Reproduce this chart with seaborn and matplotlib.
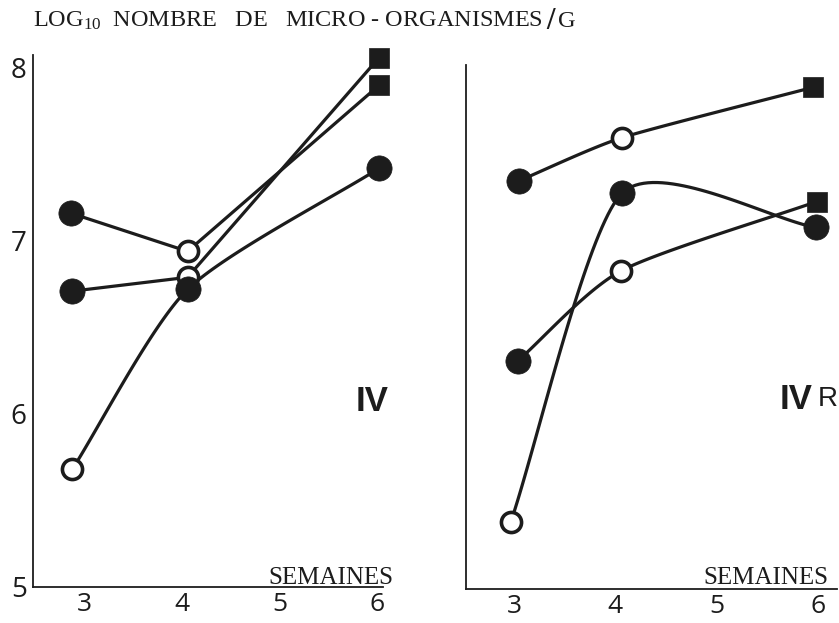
import numpy as np
import pandas as pd
import matplotlib
matplotlib.use("Agg")
import matplotlib.pyplot as plt
import seaborn as sns

sns.set_style("white")
plt.rcParams['font.family'] = ['Liberation Serif', 'DejaVu Serif']
plt.rcParams['mathtext.default'] = 'regular'

INK = "#1c1c1c"

# panneau IV : semaines / log10 nombre de micro-organismes / type de point
weeks_iv = [[2.87, 4.06, 6.02],
            [2.88, 4.06, 6.02],
            [2.88, 4.06, 6.02]]
logn_iv = [[7.16, 6.94, 7.90],
           [6.71, 6.79, 8.06],
           [5.68, 6.72, 7.42]]
kind_iv = [["plein", "vide", "carre"],
           ["plein", "vide", "carre"],
           ["vide", "plein", "plein"]]
tension_iv = [1.0, 1.0, 0.3]

# panneau IV R
weeks_ivr = [[3.05, 4.07, 5.95],
             [2.97, 4.07, 5.98],
             [3.04, 4.06, 5.99]]
logn_ivr = [[7.36, 7.61, 7.90],
            [5.39, 7.29, 7.09],
            [6.32, 6.84, 7.24]]
kind_ivr = [["plein", "vide", "carre"],
            ["vide", "plein", "plein"],
            ["plein", "vide", "carre"]]
tension_ivr = [0.4, 0.3, 0.3]

week_ticks = [3, 4, 5, 6]
log_ticks = [5, 6, 7, 8]


def courbe(xs, ys, tension, n=40):
    # cardinal spline through the points (tension 1 -> straight segments)
    p = np.column_stack([xs, ys]).astype(float)
    m = np.zeros_like(p)
    m[1:-1] = (p[2:] - p[:-2]) / 2
    m[0] = p[1] - p[0]
    m[-1] = p[-1] - p[-2]
    m *= (1 - tension)
    t = np.linspace(0, 1, n)[:, None]
    h00 = 2 * t**3 - 3 * t**2 + 1
    h10 = t**3 - 2 * t**2 + t
    h01 = -2 * t**3 + 3 * t**2
    h11 = t**3 - t**2
    segs = [h00 * p[i] + h10 * m[i] + h01 * p[i + 1] + h11 * m[i + 1]
            for i in range(len(p) - 1)]
    return np.vstack(segs)


def panel(ax, weeks, logn, kinds, tensions):
    for xs, ys, c in zip(weeks, logn, tensions):
        cv = courbe(xs, ys, c)
        sns.lineplot(x=cv[:, 0], y=cv[:, 1], sort=False, estimator=None,
                     color=INK, lw=2.3, ax=ax, zorder=2, clip_on=False)
    df = pd.DataFrame({"x": sum(weeks, []), "y": sum(logn, []),
                       "kind": sum(kinds, [])})
    sns.scatterplot(data=df[df.kind == "vide"], x="x", y="y", marker="o",
                    s=210, color="white", edgecolor=INK, linewidth=2.6,
                    ax=ax, zorder=3, clip_on=False)
    sns.scatterplot(data=df[df.kind == "plein"], x="x", y="y", marker="o",
                    s=330, color=INK, edgecolor=INK, linewidth=0.5,
                    ax=ax, zorder=4, clip_on=False)
    sns.scatterplot(data=df[df.kind == "carre"], x="x", y="y", marker="s",
                    s=200, color=INK, edgecolor=INK, linewidth=0.5,
                    ax=ax, zorder=4, clip_on=False)
    ax.set_xticks(week_ticks)
    ax.set_yticks(log_ticks)
    ax.set_xlabel("")
    ax.set_ylabel("")
    sns.despine(ax=ax)
    for s in ["left", "bottom"]:
        ax.spines[s].set_linewidth(1.3)
        ax.spines[s].set_color(INK)
    ax.tick_params(direction="inout", length=7, width=1.2, colors=INK,
                   labelsize=20, pad=1, labelfontfamily="Open Sans")
    ax.tick_params(axis="x", pad=0, labelsize=19)
    ax.set_facecolor("white")


fig = plt.figure(figsize=(8.39, 6.23), dpi=100)
ax1 = fig.add_axes([0.0393, 0.0578, 0.4172, 0.8539])
ax2 = fig.add_axes([0.5554, 0.0546, 0.4422, 0.8412])

panel(ax1, weeks_iv, logn_iv, kind_iv, tension_iv)
panel(ax2, weeks_ivr, logn_ivr, kind_ivr, tension_ivr)

ax1.set_xlim(2.478, 6.06)
ax1.set_ylim(5, 8.075)
ax2.set_xlim(2.526, 6.19)
ax2.set_ylim(5, 8.03)
ax2.tick_params(labelleft=False)

ax1.text(1.029, 0.006, "SEMAINES", transform=ax1.transAxes, ha="right",
         va="baseline", fontsize=18, color=INK)
ax2.text(0.976, 0.01, "SEMAINES", transform=ax2.transAxes, ha="right",
         va="baseline", fontsize=18, color=INK)

ax1.text(0.969, 0.349, "IV", transform=ax1.transAxes, ha="center",
         va="center", fontsize=25, fontweight="bold",
         family="Liberation Sans", color=INK)
ax2.text(0.933, 0.362, "IV", transform=ax2.transAxes, ha="right",
         va="center", fontsize=25, fontweight="bold",
         family="Liberation Sans", color=INK)
ax2.text(0.948, 0.362, "R", transform=ax2.transAxes, ha="left",
         va="center", fontsize=20, family="Liberation Sans", color=INK)

# titre en trois morceaux
r = fig.canvas.get_renderer()
t1 = fig.text(33 / 839, 1 - 27 / 623,
              "LOG$_{10}$  NOMBRE   DE   MICRO - ORGANISMES",
              ha="left", va="baseline", fontsize=17.5, color=INK)
bb = t1.get_window_extent(r)
x2 = (bb.x1 + 3) / fig.bbox.width
t2 = fig.text(x2, 1 - 29 / 623, "/", ha="left", va="baseline",
              fontsize=22, fontweight="bold", color=INK)
bb2 = t2.get_window_extent(r)
fig.text((bb2.x1 + 4) / fig.bbox.width, 1 - 27 / 623, "G", ha="left",
         va="baseline", fontsize=17.5, color=INK)

fig.savefig("out.png", dpi=100, facecolor="white")
